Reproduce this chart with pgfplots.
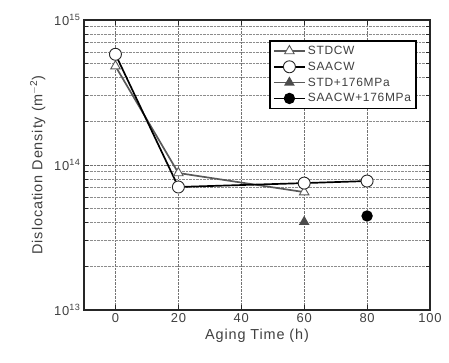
\documentclass[border=0pt]{standalone}
\usepackage{pgfplots}
\pgfplotsset{compat=1.18}
\usepackage{fontspec}
\setmainfont{Liberation Sans}[LetterSpace=6]
\begin{document}
\begin{tikzpicture}
\useasboundingbox (-84bp,-53bp) rectangle (365bp,310bp);
\begin{axis}[
  at={(0,0)}, anchor=south west,
  scale only axis, width=346bp, height=290bp,
  ymode=log, xmin=-10, xmax=100, ymin=1e13, ymax=1e15,
  xtick={0,20,40,60,80,100},
  ytick={1e13,1e14,1e15},
  yticklabels={10\textsuperscript{13},10\textsuperscript{14},10\textsuperscript{15}},
  /pgf/number format/assume math mode=true,
  xticklabel style={font=\fontsize{13}{15}\selectfont, text=black!75},
  yticklabel style={font=\fontsize{13}{15}\selectfont, text=black!75},
  tick align=inside, ticks=both,
  major tick length=5bp, minor tick length=4bp,
  axis line style={line width=1.6pt, black!85},
  tick style={black!85, line width=0.9pt},
  xmajorgrids, ymajorgrids, yminorgrids,
  major grid style={densely dotted, black!55, line width=0.6pt},
  minor grid style={densely dotted, black!45, line width=0.6pt},
  xlabel={Aging Time (h)},
  ylabel={Dislocation Density (m\textsuperscript{$-$2})},
  xlabel style={font=\fontsize{14.5}{16}\selectfont, text=black!75},
  ylabel style={font=\fontsize{14.5}{16}\selectfont, text=black!75, yshift=2bp},
  legend style={at={(0.962,0.93)}, anchor=north east, draw=black, line width=1.6pt,
     font=\fontsize{12}{14}\selectfont, text=black!75, fill=white,
     row sep=2pt, inner sep=3pt, inner xsep=3pt},
  legend cell align=left,
  legend image code/.code={
    \draw[mark repeat=2,mark phase=2,#1] plot coordinates {(0cm,0cm) (0.55cm,0cm) (1.1cm,0cm)};},
]
\addplot[black!65, line width=1.7pt, mark=triangle*, mark size=5.5bp,
  mark options={fill=white, draw=black!65, line width=0.9pt}]
  coordinates {(0,4.8e14) (20,8.8e13) (60,6.5e13)};
\addlegendentry{STDCW}
\addplot[black, line width=1.7pt, mark=*, mark size=6bp,
  mark options={fill=white, draw=black!85, line width=0.9pt}]
  coordinates {(0,5.8e14) (20,7.05e13) (60,7.5e13) (80,7.75e13)};
\addlegendentry{SAACW}
\addplot[black!65, line width=1.7pt, mark=triangle*, mark size=4.5bp,
  mark options={fill=black!70, draw=black!70}]
  coordinates {(60,4.05e13)};
\addlegendentry{STD+176MPa}
\addplot[black, line width=1.7pt, mark=*, mark size=4.8bp,
  mark options={fill=black, draw=black}]
  coordinates {(80,4.45e13)};
\addlegendentry{SAACW+176MPa}
\end{axis}
\end{tikzpicture}
\end{document}
